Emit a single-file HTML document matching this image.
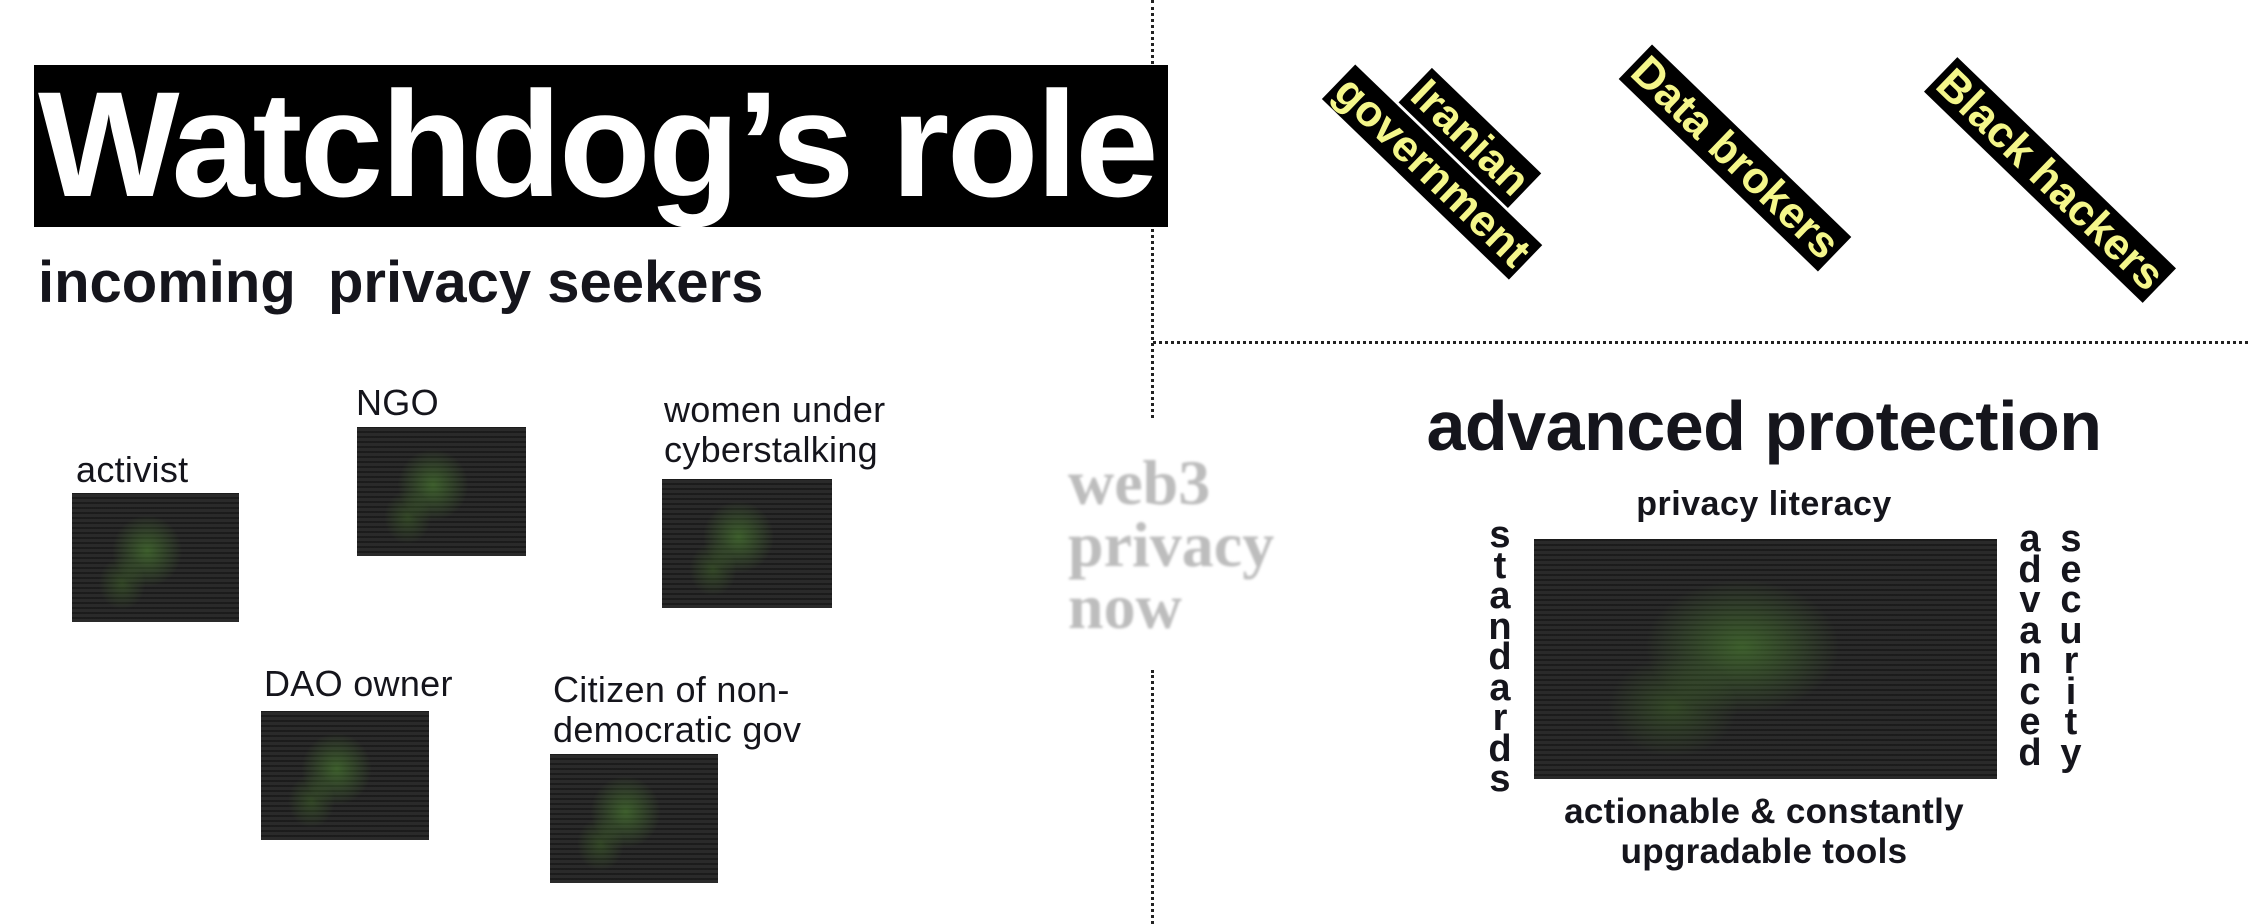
<!DOCTYPE html>
<html><head><meta charset="utf-8"><style>
html,body{margin:0;padding:0;background:#fff;}
body{width:2248px;height:924px;position:relative;overflow:hidden;font-family:"Liberation Sans",sans-serif;color:#15151c;}
.a{position:absolute;}
.b{font-weight:bold;}
.img{position:absolute;background:#2a2a2a;overflow:hidden;}
.img::after{content:"";position:absolute;inset:0;background:
radial-gradient(ellipse 30% 40% at 45% 45%,rgba(80,140,50,.55),transparent 70%),
radial-gradient(ellipse 20% 30% at 30% 70%,rgba(70,120,40,.4),transparent 70%),
repeating-linear-gradient(0deg,transparent 0 3px,rgba(0,0,0,.35) 3px 5px);}
.lbl{position:absolute;font-size:36px;line-height:40px;letter-spacing:0.3px;}
.rot{position:absolute;transform:translate(-50%,-50%) rotate(44deg);background:#000;color:#f4f68a;font-weight:bold;font-size:44px;line-height:48px;white-space:nowrap;padding:0 4px;}
.vert{position:absolute;font-weight:bold;font-size:38px;line-height:30.5px;width:40px;text-align:center;}
</style></head><body>
<div class="a" style="left:1151px;top:0;height:418px;border-left:3px dotted #222;"></div>
<div class="a" style="left:1151px;top:670px;height:254px;border-left:3px dotted #222;"></div>
<div class="a" style="left:1153px;top:341px;width:1095px;border-top:3px dotted #222;"></div>

<div class="a" style="left:34px;top:65px;width:1134px;height:162px;background:#000;"></div>
<div class="a b" style="left:38px;top:62px;font-size:150px;line-height:165px;color:#fff;letter-spacing:-2.5px;">Watchdog’s role</div>
<div class="a b" style="left:38px;top:250px;font-size:58px;line-height:66px;letter-spacing:0px;">incoming&nbsp; privacy seekers</div>

<div class="lbl" style="left:76px;top:450px;">activist</div>
<div class="img" style="left:72px;top:493px;width:167px;height:129px;"></div>
<div class="lbl" style="left:356px;top:383px;">NGO</div>
<div class="img" style="left:357px;top:427px;width:169px;height:129px;"></div>
<div class="lbl" style="left:664px;top:390px;">women under<br>cyberstalking</div>
<div class="img" style="left:662px;top:479px;width:170px;height:129px;"></div>
<div class="lbl" style="left:264px;top:664px;">DAO owner</div>
<div class="img" style="left:261px;top:711px;width:168px;height:129px;"></div>
<div class="lbl" style="left:553px;top:670px;">Citizen of non-<br>democratic gov</div>
<div class="img" style="left:550px;top:754px;width:168px;height:129px;"></div>

<div class="a" style="left:1068px;top:452px;font-family:'Liberation Serif',serif;font-weight:bold;font-size:64px;line-height:62px;color:#bdbdbd;filter:blur(1.2px);">web3<br>privacy<br>now</div>

<div class="rot" style="left:1470px;top:138px;">Iranian</div>
<div class="rot" style="left:1432px;top:172px;">government</div>
<div class="rot" style="left:1735px;top:158px;">Data brokers</div>
<div class="rot" style="left:2050px;top:180px;">Black hackers</div>

<div class="a b" style="left:1364px;top:388px;width:800px;text-align:center;font-size:70px;line-height:76px;letter-spacing:-0.5px;">advanced protection</div>
<div class="a b" style="left:1464px;top:484px;width:600px;text-align:center;font-size:34px;line-height:40px;letter-spacing:0.5px;">privacy literacy</div>
<div class="img" style="left:1534px;top:539px;width:463px;height:240px;"></div>
<div class="vert" style="left:1480px;top:520px;">s<br>t<br>a<br>n<br>d<br>a<br>r<br>d<br>s</div>
<div class="vert" style="left:2010px;top:524px;">a<br>d<br>v<br>a<br>n<br>c<br>e<br>d</div>
<div class="vert" style="left:2051px;top:524px;">s<br>e<br>c<br>u<br>r<br>i<br>t<br>y</div>
<div class="a b" style="left:1414px;top:792px;width:700px;text-align:center;font-size:35px;line-height:40px;letter-spacing:0.3px;">actionable &amp; constantly<br>upgradable tools</div>
</body></html>
